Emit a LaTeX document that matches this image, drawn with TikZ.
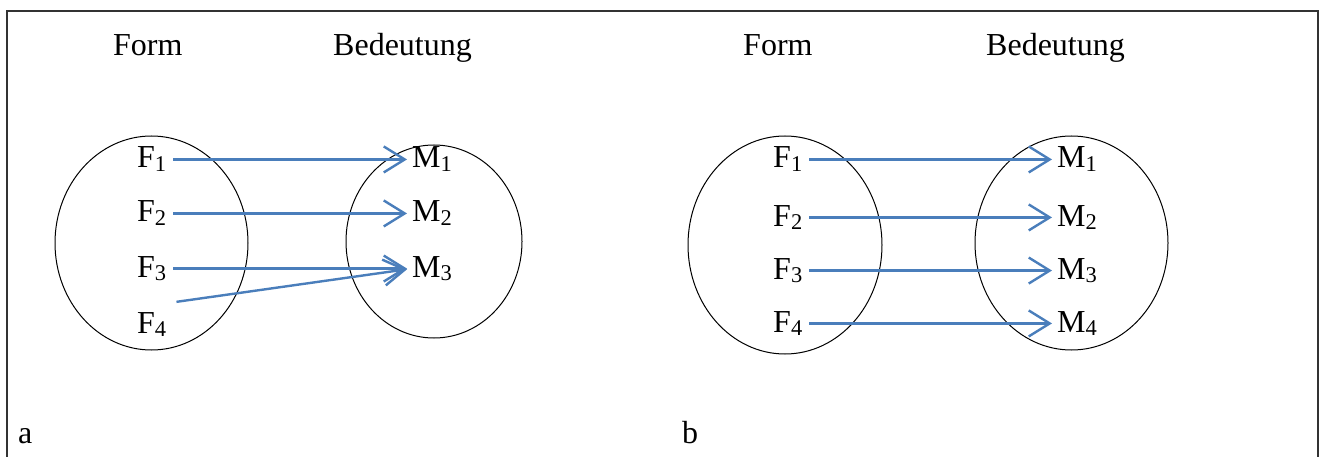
\documentclass[tikz,border=0pt]{standalone}
\usepackage{fontspec}
\setmainfont{Liberation Serif}
\usetikzlibrary{arrows.meta}
\definecolor{arrblue}{HTML}{4A7EBB}
\definecolor{framegray}{HTML}{333333}
\newcommand{\lbl}[2]{#1\raisebox{-0.12em}{\fontsize{22.5}{24}\selectfont #2}}
\tikzset{
  txt/.style={inner sep=0pt, anchor=base west, font=\fontsize{32}{36}\selectfont},
  oval/.style={draw=black, line width=1pt},
  link/.style={draw=arrblue, line width=2.4pt, shorten <=7pt, shorten >=5pt,
    -{Straight Barb[length=21pt, width=26pt, line width=2.4pt]}},
}
\begin{document}
\begin{tikzpicture}[x=1pt, y=-1pt]
\useasboundingbox (0,0) rectangle (1320,457);
% frame (open at the bottom)
\draw[framegray, line width=2.6pt] (7,470) -- (7,11) -- (1318,11) -- (1318,470);

% ---- panel a ----
\node[txt] (fa) at (113,56) {Form};
\node[txt] (ba) at (333,56) {Bedeutung};
\draw[oval] (151.5,243) ellipse [x radius=96.5, y radius=107];
\draw[oval] (434,241.5) ellipse [x radius=88, y radius=96.5];
\node[txt] (aF1) at (137,168) {\lbl{F}{1}};
\node[txt] (aF2) at (137,222) {\lbl{F}{2}};
\node[txt] (aF3) at (137,277) {\lbl{F}{3}};
\node[txt] (aF4) at (137,333) {\lbl{F}{4}};
\node[txt] (aM1) at (412,168) {\lbl{M}{1}};
\node[txt] (aM2) at (412,222) {\lbl{M}{2}};
\node[txt] (aM3) at (412,277) {\lbl{M}{3}};
\draw[link] (aF1.east) -- (aM1.west);
\draw[link] (aF2.east) -- (aM2.west);
\draw[link] (aF3.east) -- (aM3.west);
\draw[link, shorten <=0pt] ([xshift=10pt,yshift=10pt]aF4.north east) -- (aM3.west);
\node[txt] (la) at (18,443) {a};

% ---- panel b ----
\node[txt] (fb) at (743,56) {Form};
\node[txt] (bb) at (986,56) {Bedeutung};
\draw[oval] (785,245) ellipse [x radius=97, y radius=109];
\draw[oval] (1071.5,243) ellipse [x radius=96.5, y radius=107];
\node[txt] (bF1) at (773,168) {\lbl{F}{1}};
\node[txt] (bF2) at (773,226) {\lbl{F}{2}};
\node[txt] (bF3) at (773,279) {\lbl{F}{3}};
\node[txt] (bF4) at (773,332) {\lbl{F}{4}};
\node[txt] (bM1) at (1057,168) {\lbl{M}{1}};
\node[txt] (bM2) at (1057,226) {\lbl{M}{2}};
\node[txt] (bM3) at (1057,279) {\lbl{M}{3}};
\node[txt] (bM4) at (1057,332) {\lbl{M}{4}};
\draw[link] (bF1.east) -- (bM1.west);
\draw[link] (bF2.east) -- (bM2.west);
\draw[link] (bF3.east) -- (bM3.west);
\draw[link] (bF4.east) -- (bM4.west);
\node[txt] (lb) at (682,443) {b};
\end{tikzpicture}
\end{document}
